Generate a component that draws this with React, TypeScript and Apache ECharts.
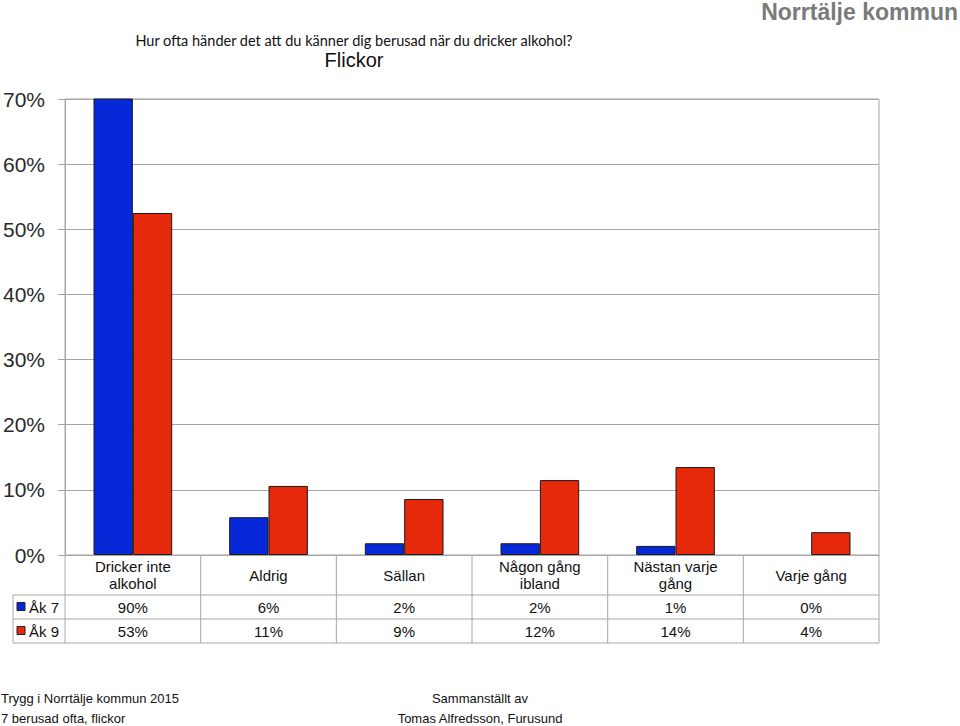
import React, { useEffect, useRef } from "react";
import * as echarts from "echarts";

const categories = [
  "Dricker inte\nalkohol",
  "Aldrig",
  "Sällan",
  "Någon gång\nibland",
  "Nästan varje\ngång",
  "Varje gång",
];
const seriesNames = ["Åk 7", "Åk 9"];
const ak7 = [90, 5.8, 1.8, 1.8, 1.4, 0];
const ak9 = [52.5, 10.6, 8.6, 11.5, 13.5, 3.5];
const yTicks = [0, 10, 20, 30, 40, 50, 60, 70];
const titleText = "Hur ofta händer det att du känner dig berusad när du dricker alkohol?";
const subTitle = "Flickor";
const corner = "Norrtälje kommun";
const footLeft = ["Trygg i Norrtälje kommun 2015", "7 berusad ofta, flickor"];
const footMid = ["Sammanställt av", "Tomas Alfredsson, Furusund"];

const BLUE = "#0529D8";
const RED = "#E5290A";
const FONT = "'Liberation Sans', Arial, sans-serif";
const LINE = "#a6a6a6";

const toBarData = (vals: number[]) =>
  vals.map((v) => (v === 0 ? { value: v, itemStyle: { borderWidth: 0 } } : v));

export default function App() {
  const ref = useRef<HTMLDivElement>(null);
  useEffect(() => {
    if (!ref.current) return;
    const chart = echarts.init(ref.current, undefined, { renderer: "svg" });
    chart.setOption({
      animation: false,
      grid: {
        left: 65,
        top: 99,
        right: 81,
        bottom: 171,
        show: true,
        borderColor: LINE,
        borderWidth: 1,
      },
      xAxis: {
        type: "category",
        data: categories,
        axisLine: { show: true, lineStyle: { color: LINE } },
        axisTick: { show: false },
        axisLabel: {
          show: true,
          interval: 0,
          margin: 20,
          verticalAlign: "middle",
          fontFamily: FONT,
          fontSize: 15,
          lineHeight: 17,
          color: "#111",
        },
      },
      yAxis: {
        type: "value",
        min: yTicks[0],
        max: yTicks[yTicks.length - 1],
        interval: 10,
        axisLine: { show: true, lineStyle: { color: LINE } },
        axisTick: { show: true, length: 7, lineStyle: { color: LINE } },
        splitLine: { show: true, lineStyle: { color: LINE } },
        axisLabel: {
          formatter: "{value}%",
          fontFamily: FONT,
          fontSize: 21,
          color: "#2a2a2a",
          margin: 20,
        },
      },
      series: [
        {
          name: seriesNames[0],
          type: "bar",
          data: toBarData(ak7),
          barGap: "0%",
          barCategoryGap: "42%",
          itemStyle: { color: BLUE, borderColor: "#1a1a1a", borderWidth: 1 },
        },
        {
          name: seriesNames[1],
          type: "bar",
          data: toBarData(ak9),
          barGap: "0%",
          barCategoryGap: "42%",
          itemStyle: { color: RED, borderColor: "#1a1a1a", borderWidth: 1 },
        },
      ],
    });

    const c0 = chart.convertToPixel({ xAxisIndex: 0 }, 0) as number;
    const c1 = chart.convertToPixel({ xAxisIndex: 0 }, 1) as number;
    const band = c1 - c0;
    const y0 = chart.convertToPixel({ yAxisIndex: 0 }, 0) as number;
    const xStart = c0 - band / 2;
    const xEnd = xStart + band * categories.length;
    const tableLeft = 13;
    const rowLabelBottom = y0 + 40;
    const rowH = 24;
    const rowsBottom = rowLabelBottom + rowH * 2;

    const g: any[] = [];
    const hline = (x1: number, x2: number, y: number) =>
      g.push({ type: "line", shape: { x1, y1: y, x2, y2: y }, style: { stroke: LINE, lineWidth: 1 } });
    const vline = (x: number, y1: number, y2: number) =>
      g.push({ type: "line", shape: { x1: x, y1, x2: x, y2 }, style: { stroke: LINE, lineWidth: 1 } });

    hline(tableLeft, xEnd, rowLabelBottom);
    hline(tableLeft, xEnd, rowLabelBottom + rowH);
    hline(tableLeft, xEnd, rowsBottom);
    vline(tableLeft, rowLabelBottom, rowsBottom);
    for (let k = 0; k <= categories.length; k++) {
      vline(xStart + band * k, y0, rowsBottom);
    }

    const rows = [ak7, ak9];
    const colors = [BLUE, RED];
    rows.forEach((vals, r) => {
      const yc = rowLabelBottom + rowH * r + rowH / 2;
      g.push({
        type: "rect",
        shape: { x: 17, y: yc - 4.5, width: 8, height: 8 },
        style: { fill: colors[r], stroke: "#222", lineWidth: 1 },
      });
      g.push({
        type: "text",
        x: 29,
        y: yc,
        style: { text: seriesNames[r], fontFamily: FONT, fontSize: 15, fill: "#111", verticalAlign: "middle" },
      });
      vals.forEach((v, i) => {
        const xc = chart.convertToPixel({ xAxisIndex: 0 }, i) as number;
        g.push({
          type: "text",
          x: xc,
          y: yc,
          style: {
            text: Math.round(v) + "%",
            fontFamily: FONT,
            fontSize: 15,
            fill: "#111",
            align: "center",
            verticalAlign: "middle",
          },
        });
      });
    });

    g.push({
      type: "text",
      x: 354,
      y: 40,
      style: { text: titleText, fontFamily: "Lato, 'Open Sans', sans-serif", fontSize: 14.5, fill: "#111", align: "center", verticalAlign: "middle" },
    });
    g.push({
      type: "text",
      x: 354,
      y: 60,
      style: { text: subTitle, fontFamily: FONT, fontSize: 20, fill: "#111", align: "center", verticalAlign: "middle" },
    });
    g.push({
      type: "text",
      x: 958,
      y: 12,
      style: { text: corner, fontFamily: FONT, fontSize: 23, fontWeight: "bold", fill: "#7a7a7a", align: "right", verticalAlign: "middle" },
    });
    footLeft.forEach((t, i) =>
      g.push({
        type: "text",
        x: 1,
        y: 698 + i * 20,
        style: { text: t, fontFamily: FONT, fontSize: 13, fill: "#111", verticalAlign: "middle" },
      })
    );
    footMid.forEach((t, i) =>
      g.push({
        type: "text",
        x: 480,
        y: 698 + i * 20,
        style: { text: t, fontFamily: FONT, fontSize: 13, fill: "#111", align: "center", verticalAlign: "middle" },
      })
    );

    chart.setOption({ graphic: g });
    return () => chart.dispose();
  }, []);
  return (
    <div
      ref={ref}
      style={{ position: "absolute", left: 0, top: 0, width: 960, height: 726, background: "#fff" }}
    />
  );
}
